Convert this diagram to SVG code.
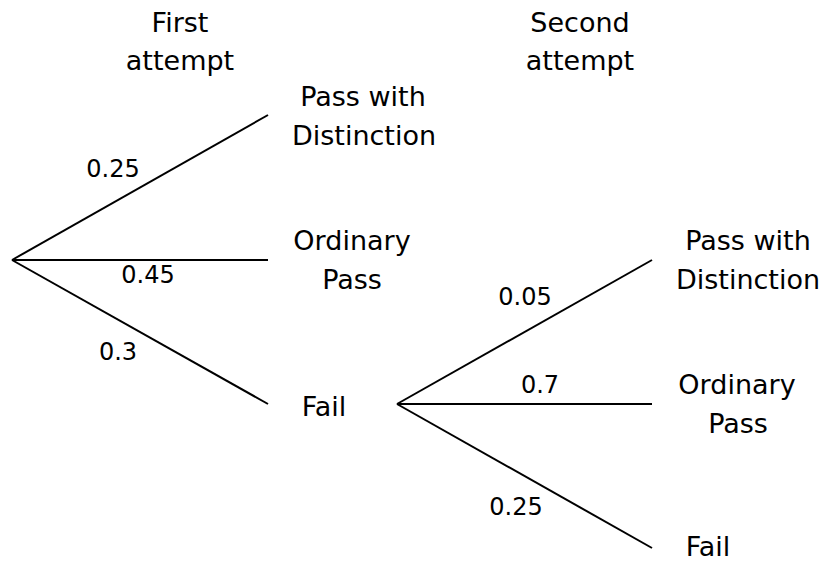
<svg xmlns="http://www.w3.org/2000/svg" width="827" height="563" viewBox="0 0 827 563">
<style>
  text { font-family: "DejaVu Sans", "Noto Sans", sans-serif; fill: #000; text-anchor: middle; }
  .lbl { font-size: 27px; }
  .num { font-size: 24px; }
  .edge { stroke: #000; stroke-width: 2; fill: none; }
</style>
<rect width="827" height="563" fill="#fff"/>
<g id="headers">
  <text class="lbl" x="180" y="32">First</text>
  <text class="lbl" x="180" y="70">attempt</text>
  <text class="lbl" x="580" y="32">Second</text>
  <text class="lbl" x="580" y="70">attempt</text>
</g>
<g id="connectors">
  <line class="edge" x1="12" y1="260" x2="268" y2="115"/>
  <line class="edge" x1="12" y1="260" x2="268" y2="260"/>
  <line class="edge" x1="12" y1="260" x2="268" y2="404"/>
  <line class="edge" x1="397" y1="404" x2="652" y2="260"/>
  <line class="edge" x1="397" y1="404" x2="652" y2="404"/>
  <line class="edge" x1="397" y1="404" x2="652" y2="548"/>
  <text class="num" x="113" y="177">0.25</text>
  <text class="num" x="148" y="283">0.45</text>
  <text class="num" x="118" y="360">0.3</text>
  <text class="num" x="525" y="305">0.05</text>
  <text class="num" x="540" y="393">0.7</text>
  <text class="num" x="516" y="515">0.25</text>
</g>
<g id="node-pd1">
  <text class="lbl" x="363" y="106">Pass with</text>
  <text class="lbl" x="364" y="145">Distinction</text>
</g>
<g id="node-op1">
  <text class="lbl" x="352" y="250">Ordinary</text>
  <text class="lbl" x="352" y="289">Pass</text>
</g>
<g id="node-fail1">
  <text class="lbl" x="324" y="416">Fail</text>
</g>
<g id="node-pd2">
  <text class="lbl" x="748" y="250">Pass with</text>
  <text class="lbl" x="748" y="289">Distinction</text>
</g>
<g id="node-op2">
  <text class="lbl" x="737" y="394">Ordinary</text>
  <text class="lbl" x="738" y="433">Pass</text>
</g>
<g id="node-fail2">
  <text class="lbl" x="708" y="556">Fail</text>
</g>
</svg>
